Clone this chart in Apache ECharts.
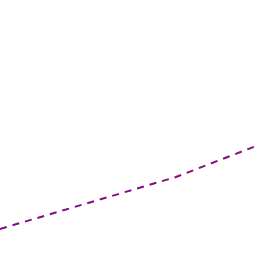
<!DOCTYPE html>
<html><head><meta charset="utf-8">
<script src="https://cdn.jsdelivr.net/npm/echarts@6/dist/echarts.min.js"></script>
<style>html,body{margin:0;padding:0;background:#fff}#c{width:256px;height:256px}</style>
</head><body><div id="c"></div>
<script>
const xValues = [0, 176, 256];
const yValues = [27, 79, 110];
const chart = echarts.init(document.getElementById('c'));
chart.setOption({
  animation: false,
  grid: {left: 0, right: 0, top: 0, bottom: 0},
  xAxis: {type: 'value', min: 0, max: 256, show: false},
  yAxis: {type: 'value', min: 0, max: 256, show: false},
  series: [{
    type: 'line',
    data: xValues.map((x, i) => [x, yValues[i]]),
    showSymbol: false,
    lineStyle: {color: '#850a85', width: 2, type: [7, 6]}
  }]
});
</script></body></html>
